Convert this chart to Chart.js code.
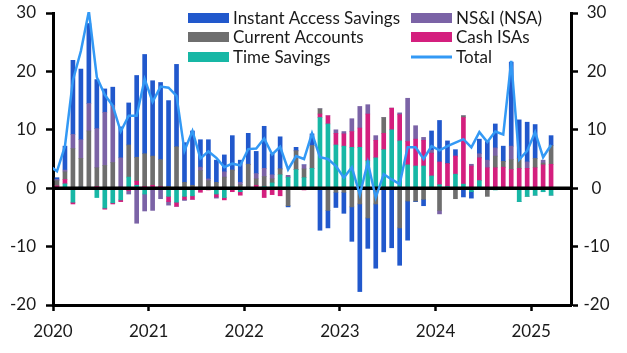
<!DOCTYPE html>
<html>
<head>
<meta charset="utf-8">
<script src="https://cdn.jsdelivr.net/npm/chart.js@4.4.1/dist/chart.umd.min.js"></script>
<style>
  html, body { margin: 0; padding: 0; background: #fff; }
  #chart { display: block; }
</style>
</head>
<body>
<canvas id="chart" width="627" height="353"></canvas>
<script>
// monthly, Dec 2019 .. Mar 2025 (Dec 2019 only carries the total line into the frame)
const months = [
  '2019-12',
  '2020-01','2020-02','2020-03','2020-04','2020-05','2020-06','2020-07','2020-08','2020-09','2020-10','2020-11','2020-12',
  '2021-01','2021-02','2021-03','2021-04','2021-05','2021-06','2021-07','2021-08','2021-09','2021-10','2021-11','2021-12',
  '2022-01','2022-02','2022-03','2022-04','2022-05','2022-06','2022-07','2022-08','2022-09','2022-10','2022-11','2022-12',
  '2023-01','2023-02','2023-03','2023-04','2023-05','2023-06','2023-07','2023-08','2023-09','2023-10','2023-11','2023-12',
  '2024-01','2024-02','2024-03','2024-04','2024-05','2024-06','2024-07','2024-08','2024-09','2024-10','2024-11','2024-12',
  '2025-01','2025-02','2025-03'
];
const yearTicks = ['2020', '2021', '2022', '2023', '2024', '2025'];
const valueTicks = [-20, -10, 0, 10, 20, 30];

const timeSavings = [null,
  0, 0.75, -2.4, 0.2, 0, -1.6, -3.4, -2.5, -2.0, 1.9, 0.5, -1.0,
  0, 0, -1.4, -2.4, -1.4, -1.3, 0, 0, -1.0, -1.6, 0.2, -0.6,
  0, 0, 0.3, 0.9, 2.3, 1.9, 3.2, 1.8, 3.4, 12.1, 11.0, 7.4,
  7.2, 7.0, 7.0, 4.7, 5.2, 6.6, 10.0, 8.1, 4.0, 3.8, 3.8, 2.1,
  0.6, 0.3, 2.4, 0.7, -0.6, 1.3, 0, -0.3, 0, 0, -2.3, -1.4,
  -1.2, -0.6, -1.2];
const cashIsas = [null,
  0.4, 0.75, -0.3, 0, 0, 0.3, -0.2, -0.2, -0.3, -0.4, 0.7, 0.3,
  0.5, 0.3, -0.9, -0.7, -0.5, -0.6, -0.7, -0.3, -0.5, -0.4, -0.6, -0.6,
  0, 0.5, -1.6, -1.1, -1.3, 0, 0, -0.3, 0, 0.6, 1.4, 2.0,
  2.1, 2.7, 3.3, 8.0, 3.0, 2.8, 3.7, 4.5, 4.0, 4.6, 4.4, 3.9,
  3.9, 3.9, 3.1, 11.4, 3.8, 3.9, 3.5, 3.5, 3.6, 3.2, 3.4, 3.4,
  3.5, 4.0, 4.1];
const currentAccounts = [null,
  0.9, 1.3, 6.8, 4.9, 9.8, 3.2, 3.9, 4.4, 0.2, 5.5, 4.1, 5.6,
  5.0, 4.6, 0.3, 7.1, 1.0, 0.5, 3.0, 1.3, 1.0, 1.9, 2.9, 0.6,
  4.1, 1.1, 1.7, 0.7, 1.0, -3.0, 3.2, 1.5, 3.9, 0.9, -3.8, -0.7,
  -0.7, -3.2, -2.7, -5.1, -2.7, 2.7, 0, -6.8, -2.2, -2.2, -1.9, 0,
  -3.8, 0, -1.8, 0.3, 0, 0, -1.4, 2.0, 1.0, 1.7, 1.7, 0,
  1.6, 0.3, 3.2];
const nsi = [null,
  0.2, 0.3, 2.4, 3.2, 4.7, 6.7, 9.1, 9.8, 5.0, -0.6, -6.0, -2.9,
  -3.8, -1.8, -0.6, 0, -0.2, 0, 0.6, 0.3, -0.2, 0.9, 0, 0.4,
  0, 0.9, 1.4, 0.7, 0, 0.3, 0, 0.7, 0, 0, 0, 0.6,
  0.4, 2.2, 3.7, 1.6, 0.8, 0, 0, 0.3, 7.4, 2.3, 0.5, 0.5,
  -0.6, 0, 0, 0, 0.3, 0.7, 1.3, 1.4, 0, 2.3, 0, 1.1,
  0, 0.5, 0];
const instantAccess = [null,
  0.3, 4.1, 12.7, 12.1, 13.7, 8.4, 4.0, 3.1, 5.3, 7.2, 14.0, 17.0,
  12.9, 13.2, 14.7, 14.1, 6.8, 9.3, 4.7, 6.7, 3.8, 2.9, 5.9, 3.8,
  5.3, 3.8, 7.2, 3.6, 5.5, -0.2, 0.6, 0, 2.0, -7.2, -3.0, -2.6,
  -3.6, -5.9, -15.0, -5.2, -11.0, -10.9, -10.2, -6.4, -6.7, -0.1, -1.1, 3.3,
  7.1, 3.9, 1.1, -1.5, -1.1, 2.5, 3.2, 4.1, 2.6, 14.4, 6.6, 6.8,
  5.8, 0, 1.7];
const total = [3.9,
  2.9, 7.2, 18.5, 23.5, 30.3, 19.0, 16.0, 14.1, 9.7, 12.4, 12.4, 18.7,
  14.8, 17.4, 17.2, 15.8, 6.4, 9.8, 5.1, 6.3, 5.2, 3.6, 4.2, 3.9,
  6.7, 6.8, 8.5, 5.8, 7.1, 3.2, 5.5, 5.0, 9.4, 5.3, 5.0, 3.8,
  1.8, 3.6, -1.1, 4.4, -1.6, 2.4, 1.5, 0.7, 7.0, 7.0, 5.0, 7.2,
  6.5, 7.2, 7.8, 8.4, 7.0, 9.6, 7.9, 9.7, 9.2, 21.8, 4.9, 6.4,
  9.6, 5.3, 7.4];

const colors = {
  instant: '#2158CC',
  current: '#6E6E6E',
  time: '#17B7A5',
  nsi: '#7B63A6',
  isa: '#D41F7E',
  total: '#3399F5',
  ink: '#1a1a1a'
};

// month i sits at the middle of its month, Jan 2020 starts at x = 0
const toPoints = arr => arr.map((v, i) => ({ x: i - 0.5, y: v }));

function barSet(label, arr, color) {
  return {
    type: 'bar',
    label,
    data: toPoints(arr),
    backgroundColor: color,
    barThickness: 4,
    order: 1
  };
}

const legendItems = [
  { label: 'Instant Access Savings', color: colors.instant, col: 0, row: 0 },
  { label: 'Current Accounts', color: colors.current, col: 0, row: 1 },
  { label: 'Time Savings', color: colors.time, col: 0, row: 2 },
  { label: 'NS&I (NSA)', color: colors.nsi, col: 1, row: 0 },
  { label: 'Cash ISAs', color: colors.isa, col: 1, row: 1 },
  { label: 'Total', color: colors.total, col: 1, row: 2, line: true }
];

const zeroLine = {
  id: 'zeroLine',
  beforeDatasetDraw(chart, args) {
    if (args.meta.type !== 'line') return;
    const { ctx, chartArea, scales } = chart;
    const y = scales.y.getPixelForValue(0);
    ctx.save();
    ctx.strokeStyle = '#000';
    ctx.lineWidth = 3.5;
    ctx.beginPath();
    ctx.moveTo(chartArea.left, y);
    ctx.lineTo(chartArea.right, y);
    ctx.stroke();
    ctx.restore();
  }
};

const legendBox = {
  id: 'legendBox',
  afterDraw(chart) {
    const { ctx } = chart;
    const colX = [188, 411];
    const rowY = [18, 37, 57];
    ctx.save();
    ctx.font = '17px Lato';
    ctx.textBaseline = 'middle';
    ctx.textAlign = 'left';
    legendItems.forEach(item => {
      const x = colX[item.col];
      const y = rowY[item.row];
      if (item.line) {
        ctx.strokeStyle = item.color;
        ctx.lineWidth = 3;
        ctx.beginPath();
        ctx.moveTo(x, y);
        ctx.lineTo(x + 41, y);
        ctx.stroke();
      } else {
        ctx.fillStyle = item.color;
        ctx.fillRect(x, y - 5, 41, 10);
      }
      ctx.fillStyle = colors.ink;
      ctx.fillText(item.label, x + 45, y + 1);
    });
    ctx.restore();
  }
};

const yAxis = (position, width, padding) => ({
  position,
  min: -20,
  max: 30,
  stacked: true,
  afterBuildTicks: s => { s.ticks = valueTicks.map(v => ({ value: v })); },
  afterFit: s => { s.width = width; s.paddingTop = 0; s.paddingBottom = 0; },
  ticks: {
    color: colors.ink,
    font: { family: 'Lato', size: 17 },
    padding,
    crossAlign: position === 'right' ? 'center' : 'near'
  },
  grid: {
    drawOnChartArea: false,
    drawTicks: true,
    tickLength: 7,
    tickWidth: 2.5,
    tickColor: '#000'
  },
  border: { color: '#000', width: 3 }
});

Chart.defaults.font.family = 'Lato';

new Chart(document.getElementById('chart'), {
  type: 'bar',
  data: {
    datasets: [
      barSet('Time Savings', timeSavings, colors.time),
      barSet('Cash ISAs', cashIsas, colors.isa),
      barSet('Current Accounts', currentAccounts, colors.current),
      barSet('NS&I (NSA)', nsi, colors.nsi),
      barSet('Instant Access Savings', instantAccess, colors.instant),
      {
        type: 'line',
        label: 'Total',
        data: toPoints(total),
        borderColor: colors.total,
        borderWidth: 2.5,
        pointRadius: 0,
        tension: 0,
        clip: { left: 0, top: 1, right: 0, bottom: 0 },
        order: 0
      }
    ]
  },
  options: {
    responsive: false,
    animation: false,
    layout: { padding: { top: 13, left: 0, right: 0, bottom: 0 } },
    plugins: {
      legend: { display: false },
      tooltip: { enabled: false }
    },
    scales: {
      x: {
        type: 'linear',
        min: 0,
        max: 65,
        stacked: true,
        offset: false,
        afterBuildTicks: s => { s.ticks = yearTicks.map((_, i) => ({ value: i * 12 })); },
        afterFit: s => { s.height = 48; s.paddingLeft = 0; s.paddingRight = 0; },
        ticks: {
          color: colors.ink,
          font: { family: 'Lato', size: 17 },
          padding: 10,
          maxRotation: 0,
          callback: (v, i) => yearTicks[i]
        },
        grid: {
          offset: false,
          drawOnChartArea: false,
          drawTicks: true,
          tickLength: 6,
          tickWidth: 2.5,
          tickColor: '#000'
        },
        border: { color: '#000', width: 3 }
      },
      y: yAxis('left', 53, 10),
      y2: yAxis('right', 56, 5.5)
    }
  },
  plugins: [zeroLine, legendBox]
});
</script>
</body>
</html>
